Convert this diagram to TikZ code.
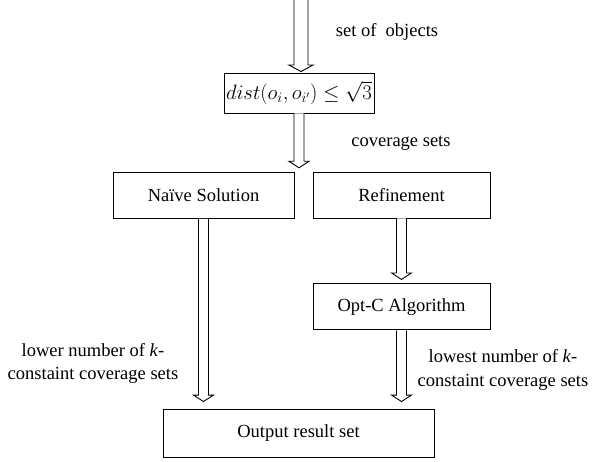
\documentclass[tikz,border=0pt]{standalone}
\usepackage[no-math]{fontspec}
\setmainfont{Liberation Serif}
\usepackage{amsmath}
\usepackage{tikz}
\usetikzlibrary{positioning, calc}

\newcommand{\hollowarrow}[4][5]{%
  \draw[hollow] let \p1=#2, \p2=#3 in
    (\x1-#1pt,\y1) -- (\x1-#1pt,\y2+#4pt+6.5pt) -- (\x1-#1pt-5pt,\y2+#4pt+6.5pt)
    -- (\x1,\y2+#4pt) -- (\x1+#1pt+5pt,\y2+#4pt+6.5pt) -- (\x1+#1pt,\y2+#4pt+6.5pt)
    -- (\x1+#1pt,\y1);}

\begin{document}
\begin{tikzpicture}[
  x=1pt, y=1pt,
  procbox/.style={rectangle, draw=black, line width=0.9pt, fill=white,
               minimum height=46pt, font=\fontsize{18.5}{23.5}\selectfont, inner sep=2pt},
  lbl/.style={font=\fontsize{18.5}{23.5}\selectfont, align=center, inner sep=1pt},
  hollow/.style={draw=black, fill=white, line width=0.9pt, line join=miter}
]
  \useasboundingbox (0,0) rectangle (593,461);

  \node[procbox, minimum width=146pt, minimum height=40pt, font=\fontsize{20.5}{24}\selectfont]
    (dist) at (299,368) {$dist(o_i,o_{i'}) \leq \sqrt{3}$};
  \node[procbox, minimum width=181pt] (naive) at (203.5,265.5) {Na\"ive Solution};
  \node[procbox, minimum width=177pt] (refine) at (401.5,266) {Refinement};
  \node[procbox, minimum width=177pt, below=65pt of refine] (optc) {Opt-C Algorithm};
  \node[procbox, minimum width=271pt, minimum height=48pt] (output) at (298.5,28) {Output result set};

  \coordinate (in) at (301,461);
  \coordinate (fork) at ($(naive.north east)!0.5!(refine.north west)$);

  \node[lbl] (lblobj) at (387,429) {set of \ objects};
  \node[lbl] (lblcov) at (401,318) {coverage sets};
  \node[lbl] (lbllow) at (93,97.5) {lower number of \textit{k}-\\constaint coverage sets};
  \node[lbl] (lbllowest) at (503,91) {lowest number of \textit{k}-\\constaint coverage sets};

  \hollowarrow[7]{(in)}{(dist.north)}{1}
  \hollowarrow{(dist.south)}{(fork)}{4}
  \hollowarrow{(naive.south)}{(output.north)}{7}
  \hollowarrow{(refine.south)}{(optc.north)}{4}
  \hollowarrow{(optc.south)}{(output.north)}{7}
\end{tikzpicture}
\end{document}
